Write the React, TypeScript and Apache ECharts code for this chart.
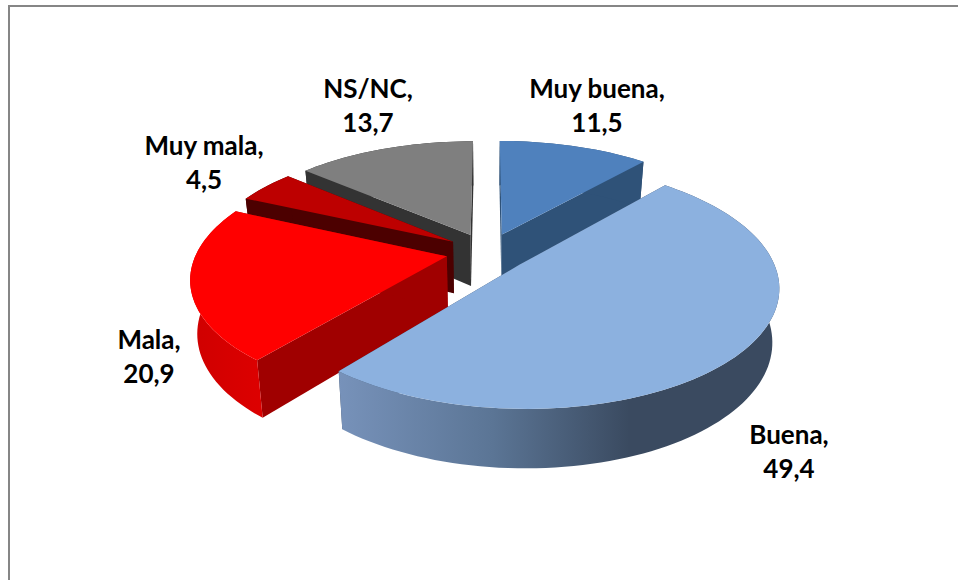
import React, { useEffect, useRef } from "react";
import * as echarts from "echarts";

const categories = ["Muy buena", "Buena", "Mala", "Muy mala", "NS/NC"];
const values = [11.5, 49.4, 20.9, 4.5, 13.7];

// draw order, back to front
const drawOrder = [4, 0, 3, 2, 1];
const topColors = ["#4f81bd", "#8cb1df", "#ff0000", "#bd0000", "#7f7f7f"];
const wallColors = ["#2f5278", "#3a4a60", "#a00000", "#4c0000", "#333333"];
const labelCenters: number[][] = [[597, 105], [789, 451], [149, 356], [204, 162], [368, 105]];

const CX = 487.5, CY = 252, F = 250, FK = 115, P = 0.17, EXPLODE = 0.166, DEPTH = 52;

const total = values.reduce((a, b) => a + b, 0);
const starts: number[] = [];
values.reduce((acc, v, i) => { starts[i] = acc; return acc + v; }, 0);

function project(X: number, Y: number, drop: boolean): number[] {
  const d = 1 - P * Y;
  const x = (F * X) / d;
  const y = CY + (FK * Y) / d;
  if (!drop) return [CX + x, y];
  const h = DEPTH * (1 + 0.13 * Y);
  return [CX + x * 0.976, y + h];
}

function outerFill(i: number): any {
  if (i === 1) {
    return new echarts.graphic.LinearGradient(0, 0, 1, 0, [
      { offset: 0, color: "#7792ba" },
      { offset: 0.35, color: "#5b7595" },
      { offset: 0.66, color: "#3a4a60" },
      { offset: 1, color: "#3a4a60" },
    ]);
  }
  if (i === 2) {
    return new echarts.graphic.LinearGradient(0, 0, 1, 0, [
      { offset: 0, color: "#cf0000" },
      { offset: 1, color: "#dd0000" },
    ]);
  }
  return wallColors[i];
}

function sliceShapes(i: number): any[] {
  const a0 = (starts[i] / total) * Math.PI * 2;
  const a1 = ((starts[i] + values[i]) / total) * Math.PI * 2;
  const mid = (a0 + a1) / 2;
  const ex = Math.sin(mid) * EXPLODE;
  const ey = -Math.cos(mid) * EXPLODE;
  const steps = Math.max(6, Math.round(values[i] * 2));
  const arc: number[][] = [];
  for (let s = 0; s <= steps; s++) {
    const a = a0 + ((a1 - a0) * s) / steps;
    arc.push([ex + Math.sin(a), ey - Math.cos(a)]);
  }
  const up = arc.map((p) => project(p[0], p[1], false));
  const down = arc.map((p) => project(p[0], p[1], true));
  const apexUp = project(ex, ey, false);
  const apexDown = project(ex, ey, true);
  const last = steps;
  const poly = (points: number[][], fill: any) => ({
    type: "polygon",
    shape: { points },
    style: { fill, stroke: null },
    silent: true,
  });
  return [
    poly([apexUp, up[0], down[0], apexDown], wallColors[i]),
    poly([apexUp, up[last], down[last], apexDown], wallColors[i]),
    poly([...up, ...down.slice().reverse()], outerFill(i)),
    poly([apexUp, ...up], topColors[i]),
  ];
}

function labelOf(i: number): string {
  return `${categories[i]},\n${values[i].toFixed(1).replace(".", ",")}`;
}

export default function App() {
  const ref = useRef<HTMLDivElement>(null);
  useEffect(() => {
    document.body.style.margin = "0";
    const chart = echarts.init(ref.current!, null, { renderer: "svg" });
    chart.setOption({
      animation: false,
      backgroundColor: "#ffffff",
      graphic: [
        {
          type: "rect",
          z: 0,
          silent: true,
          shape: { x: 9, y: 6, width: 1100, height: 800 },
          style: { fill: "none", stroke: "#868686", lineWidth: 2 },
        },
      ],
      series: [
        {
          type: "custom",
          coordinateSystem: "none",
          silent: true,
          z: 2,
          data: drawOrder.map((i) => ({ name: categories[i], value: [i, values[i]] })),
          renderItem: (params: any) => ({
            type: "group",
            children: sliceShapes(drawOrder[params.dataIndex]),
          }),
        },
        {
          type: "custom",
          coordinateSystem: "none",
          silent: true,
          z: 3,
          data: categories.map((name, i) => ({ name, value: [i, values[i]] })),
          renderItem: (params: any) => ({
            type: "text",
            x: labelCenters[params.dataIndex][0],
            y: labelCenters[params.dataIndex][1],
            silent: true,
            style: {
              text: labelOf(params.dataIndex),
              fill: "#000000",
              font: 'bold 26px Lato, "Noto Sans", sans-serif',
              lineHeight: 34,
              align: "center",
              verticalAlign: "middle",
            },
          }),
        },
      ],
    });
    return () => chart.dispose();
  }, []);
  return <div ref={ref} style={{ width: 958, height: 580 }} />;
}
